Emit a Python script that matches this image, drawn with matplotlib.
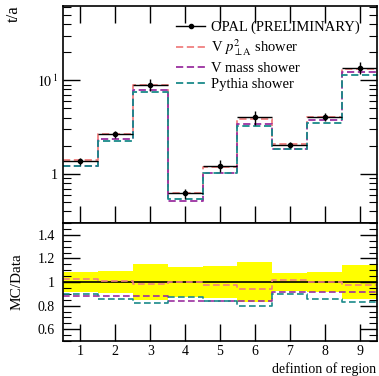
import numpy as np
import matplotlib
matplotlib.use('Agg')
import matplotlib.pyplot as plt
from matplotlib.ticker import FixedLocator, MultipleLocator, NullFormatter

plt.rcParams['font.family'] = ['Liberation Serif', 'DejaVu Serif']
plt.rcParams['mathtext.fontset'] = 'stix'

# region index and data
regions = [1, 2, 3, 4, 5, 6, 7, 8, 9]
data = [1.37, 2.66, 9.0, 0.62, 1.23, 4.05, 2.05, 4.07, 13.6]
data_err = [0.12, 0.25, 1.35, 0.078, 0.17, 0.69, 0.16, 0.36, 1.97]

mc_pt = [1.41, 2.68, 8.82, 0.62, 1.20, 3.82, 2.09, 4.07, 13.2]
mc_mass = [1.21, 2.34, 7.92, 0.52, 1.03, 3.40, 1.87, 3.74, 12.4]
mc_pythia = [1.23, 2.27, 7.42, 0.54, 1.03, 3.24, 1.85, 3.49, 11.25]

labels = ['OPAL (PRELIMINARY)', r'V $p_{\perp\mathrm{A}}^{2}$ shower', 'V mass shower', 'Pythia shower']
colors = ['#f08080', '#9b30a0', '#1a8a8a']

x = np.array(regions, dtype=float)
edges = np.append(x - 0.5, x[-1] + 0.5)
d = np.array(data)
derr = np.array(data_err)

fig = plt.figure(figsize=(3.79, 3.76), dpi=100)
ax = fig.add_axes([63 / 379, 1 - 223 / 376, 314 / 379, 217 / 376])
rx = fig.add_axes([63 / 379, 1 - 341 / 376, 314 / 379, 118 / 376], sharex=ax)

mcs = [mc_pt, mc_mass, mc_pythia]
for mc, c in zip(mcs, colors):
    vals = np.append(mc, mc[-1])
    ax.step(edges, vals, where='post', color=c, lw=1.3, ls=(0, (4, 2)))
    rvals = np.array(mc) / d
    rx.step(edges, np.append(rvals, rvals[-1]), where='post', color=c, lw=1.2, ls=(0, (4, 2)))

ax.errorbar(x, d, yerr=derr, xerr=0.5, fmt='o', color='black', ms=3, lw=1.0, capsize=0, zorder=5)

ax.set_yscale('log')
ax.set_ylim(0.3, 62)
ax.set_xlim(0.5, 9.5)
ax.yaxis.set_major_locator(FixedLocator([1, 10]))
ax.set_yticklabels(['1', r'$10^{\,1}$'])
minors = [v * s for s in (0.1, 1, 10) for v in range(2, 10)]
ax.yaxis.set_minor_locator(FixedLocator(minors))
ax.yaxis.set_minor_formatter(NullFormatter())
ax.tick_params(axis='both', which='major', direction='in', length=12, width=1, labelsize=10,
               top=True, right=True, bottom=True)
ax.tick_params(axis='y', which='minor', direction='in', length=6, width=0.8, right=True, left=True)
ax.tick_params(axis='x', labelbottom=False)
ax.xaxis.set_major_locator(FixedLocator(regions))

# ratio panel
rel = derr / d
rx.fill_between(edges, np.append(1 - rel, 1 - rel[-1]), np.append(1 + rel, 1 + rel[-1]),
                step='post', color='yellow', lw=0, zorder=0)
rx.axhline(1.0, color='black', lw=1.2, zorder=1)
rx.set_ylim(0.5, 1.5)
rx.yaxis.set_major_locator(FixedLocator([0.6, 0.8, 1.0, 1.2, 1.4]))
rx.set_yticklabels(['0.6', '0.8', '1', '1.2', '1.4'])
rx.yaxis.set_minor_locator(MultipleLocator(0.05))
rx.tick_params(axis='y', which='major', direction='in', length=12, width=1, labelsize=10,
               right=True, pad=6)
rx.tick_params(axis='x', which='major', direction='in', length=12, width=1, labelsize=10,
               top=False, pad=3)
rx.tick_params(axis='y', which='minor', direction='in', length=6, width=0.8, right=True)
rx.tick_params(axis='x', which='minor', length=0)
rx.set_xticklabels([str(r) for r in regions])

for a in (ax, rx):
    for s in a.spines.values():
        s.set_linewidth(1.2)

# legend
handles = [plt.Line2D([], [], color='black', marker='o', ms=3, lw=1.0)]
for c in colors:
    handles.append(plt.Line2D([], [], color=c, lw=1.3, ls=(0, (4, 2))))
fig.legend(handles, labels, loc='upper left', bbox_to_anchor=(176 / 379, 1 - 21 / 376),
           frameon=False, fontsize=10.5, handlelength=2.0, handletextpad=0.4,
           labelspacing=0.22, borderpad=0, borderaxespad=0)

fig.text(14 / 379, 1 - 5 / 376, 't/a', rotation=90, ha='center', va='top', fontsize=12)
fig.text(17 / 379, 1 - 282 / 376, 'MC/Data', rotation=90, ha='center', va='center', fontsize=11)
fig.text(376 / 379, 0.5 / 376, 'defintion of region', ha='right', va='bottom', fontsize=10)

fig.savefig('out.png', dpi=100)
